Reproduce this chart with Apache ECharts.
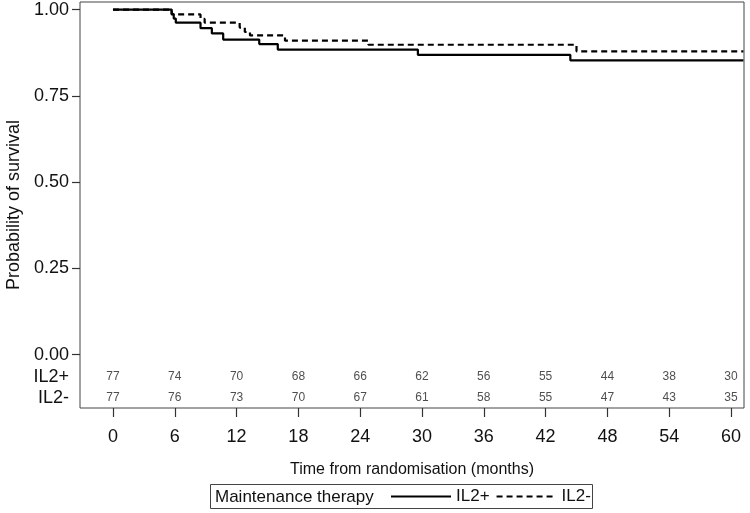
<!DOCTYPE html>
<html>
<head>
<meta charset="utf-8">
<script src="https://cdn.jsdelivr.net/npm/echarts@6/dist/echarts.min.js"></script>
<style>
html,body{margin:0;padding:0;background:#fff;}
#chart{width:750px;height:513px;}
</style>
</head>
<body>
<div id="chart"></div>
<script>
// Kaplan-Meier step data (months, survival probability)
var il2PlusTimes = [0, 5.7, 5.9, 6.1, 8.5, 9.6, 10.7, 14.2, 16.0, 29.6, 44.4, 61.2];
var il2PlusSurv  = [1.0, 0.987, 0.974, 0.962, 0.946, 0.931, 0.913, 0.900, 0.884, 0.869, 0.853, 0.853];
var il2MinusTimes = [0, 5.7, 8.5, 8.9, 12.3, 12.8, 13.3, 16.7, 24.8, 45.0, 61.2];
var il2MinusSurv  = [1.0, 0.986, 0.973, 0.962, 0.948, 0.935, 0.925, 0.910, 0.898, 0.879, 0.879];

// Numbers at risk
var riskTimes = [0, 6, 12, 18, 24, 30, 36, 42, 48, 54, 60];
var riskPlus  = [77, 74, 70, 68, 66, 62, 56, 55, 44, 38, 30];
var riskMinus = [77, 76, 73, 70, 67, 61, 58, 55, 47, 43, 35];

// Tick labels
var xTicks = [0, 6, 12, 18, 24, 30, 36, 42, 48, 54, 60];
var yTicks = [0, 0.25, 0.5, 0.75, 1.0];
var seriesNames = ['IL2+', 'IL2-'];
var legendTitle = 'Maintenance therapy';

var ROW_PLUS = -0.065, ROW_MINUS = -0.126;
var FONT = 'Liberation Sans, Arial, sans-serif';

function zip(a, b) { return a.map(function (v, i) { return [v, b[i]]; }); }
function riskData(arr, row) { return riskTimes.map(function (t, i) { return [t, row, arr[i]]; }); }

var chart = echarts.init(document.getElementById('chart'), null, {renderer: 'canvas'});
chart.setOption({
  animation: false,
  backgroundColor: '#fff',
  textStyle: {fontFamily: FONT},
  grid: {left: 80, right: 6, top: 2, bottom: 105, containLabel: false, outerBoundsMode: 'none',
         show: true, borderColor: '#444', borderWidth: 1, backgroundColor: 'transparent'},
  xAxis: {
    type: 'value', min: -3.2, max: 61.26,
    axisLine: {show: false, onZero: false},
    splitLine: {show: false},
    axisTick: {show: true, inside: false, customValues: xTicks, length: 9, lineStyle: {color: '#333', width: 1.2}},
    axisLabel: {customValues: xTicks, fontSize: 18, color: '#111', margin: 20, fontFamily: FONT},
    name: 'Time from randomisation (months)', nameLocation: 'middle', nameGap: 54,
    nameTextStyle: {fontSize: 16, color: '#111', fontFamily: FONT}
  },
  yAxis: {
    type: 'value', min: -0.155, max: 1.022,
    axisLine: {show: false, onZero: false},
    splitLine: {show: false},
    axisTick: {show: true, inside: false, customValues: yTicks, length: 8, lineStyle: {color: '#333', width: 1.2}},
    axisLabel: {
      customValues: [ROW_MINUS, ROW_PLUS].concat(yTicks),
      fontSize: 18, color: '#111', margin: 11, fontFamily: FONT,
      formatter: function (v) {
        if (v < -0.1) return seriesNames[1];
        if (v < -0.01) return seriesNames[0];
        return Number(v).toFixed(2);
      }
    },
    name: 'Probability of survival', nameLocation: 'middle', nameGap: 56, nameRotate: 90,
    nameTextStyle: {fontSize: 18, color: '#111', fontFamily: FONT}
  },
  legend: {
    data: seriesNames, left: 390, top: 488, padding: 0, itemWidth: 60, itemHeight: 14, itemGap: 6,
    itemStyle: {color: 'rgba(0,0,0,0)', borderWidth: 0},
    textStyle: {fontSize: 17, color: '#111', fontFamily: FONT}
  },
  graphic: [
    {type: 'rect', shape: {x: 210.5, y: 484.5, width: 382, height: 24}, style: {fill: 'none', stroke: '#444', lineWidth: 1}, silent: true},
    {type: 'text', x: 215, y: 497, style: {text: legendTitle, fontSize: 17, fill: '#111', fontFamily: FONT, verticalAlign: 'middle'}, silent: true}
  ],
  series: [
    {name: seriesNames[0], type: 'line', step: 'end', symbol: 'none', data: zip(il2PlusTimes, il2PlusSurv),
     lineStyle: {color: '#000', width: 2.2, type: 'solid'}, itemStyle: {color: '#000'}},
    {name: seriesNames[1], type: 'line', step: 'end', symbol: 'none', data: zip(il2MinusTimes, il2MinusSurv),
     lineStyle: {color: '#000', width: 2.2, type: [6, 4]}, itemStyle: {color: '#000'}},
    {name: 'riskPlus', type: 'scatter', symbolSize: 0, itemStyle: {color: 'rgba(0,0,0,0)'}, silent: true,
     data: riskData(riskPlus, ROW_PLUS),
     label: {show: true, position: 'inside', formatter: function (p) { return p.value[2]; }, fontSize: 12, color: '#222', fontFamily: FONT}},
    {name: 'riskMinus', type: 'scatter', symbolSize: 0, itemStyle: {color: 'rgba(0,0,0,0)'}, silent: true,
     data: riskData(riskMinus, ROW_MINUS),
     label: {show: true, position: 'inside', formatter: function (p) { return p.value[2]; }, fontSize: 12, color: '#222', fontFamily: FONT}}
  ]
});
</script>
</body>
</html>
